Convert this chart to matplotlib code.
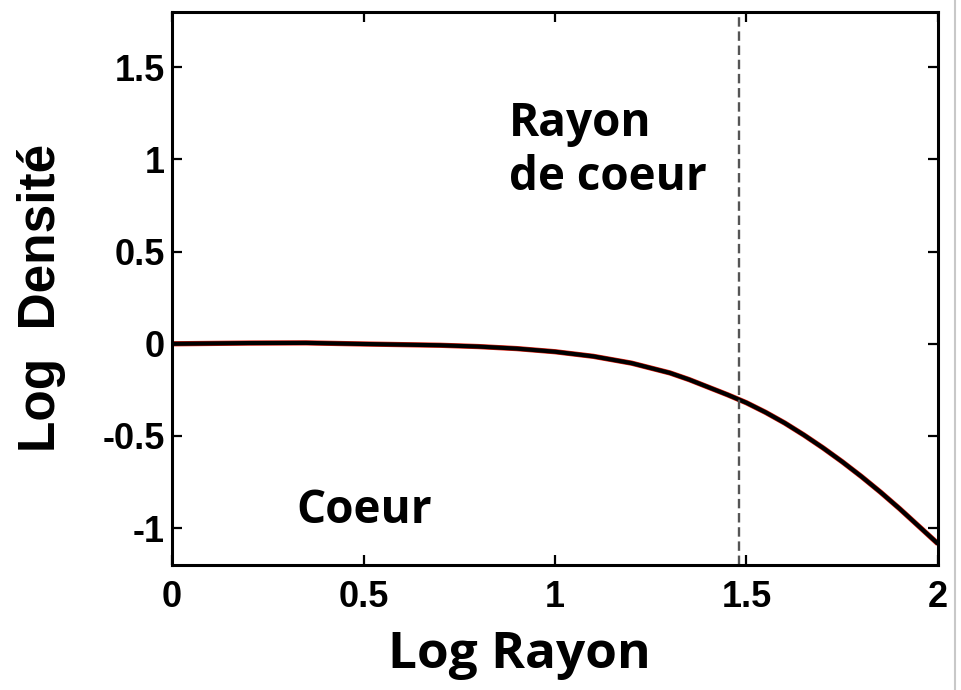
import matplotlib
matplotlib.use('Agg')
import matplotlib.pyplot as plt
from matplotlib.lines import Line2D

# profil de densite (log r, log densite)
log_r = [0.0, 0.2, 0.35, 0.5, 0.7, 0.8, 0.9, 1.0, 1.1, 1.2, 1.3, 1.35, 1.4,
         1.45, 1.5, 1.55, 1.6, 1.65, 1.7, 1.75, 1.8, 1.85, 1.9, 1.95, 2.0]
log_dens = [0.0, 0.004, 0.005, -0.001, -0.008, -0.015, -0.026, -0.043, -0.068,
            -0.105, -0.158, -0.194, -0.235, -0.276, -0.32, -0.372, -0.43,
            -0.495, -0.565, -0.64, -0.72, -0.805, -0.895, -0.99, -1.085]
r_coeur = 1.48

xticks = [0, 0.5, 1, 1.5, 2]
xtick_labels = ['0', '0.5', '1', '1.5', '2']
yticks = [-1, -0.5, 0, 0.5, 1, 1.5]
ytick_labels = ['-1', '-0.5', '0', '0.5', '1', '1.5']

fig = plt.figure(figsize=(9.62, 6.9), dpi=100)
ax = fig.add_axes([172/962, 1 - 565/690, (938-172)/962, (565-12)/690])

ax.plot(log_r, log_dens, color='#e02010', lw=3.8, solid_capstyle='butt')
ax.plot(log_r, log_dens, color='black', lw=3.0, solid_capstyle='butt')
ax.axvline(r_coeur, color='#555555', lw=1.7, ls=(0, (4, 2)))

ax.set_xlim(0, 2)
ax.set_ylim(-1.2, 1.8)
ax.set_xticks(xticks)
ax.set_xticklabels(xtick_labels)
ax.set_yticks(yticks)
ax.set_yticklabels(ytick_labels)
ax.tick_params(direction='in', length=7, width=1.6, top=True, right=True,
               labelsize=26)
ax.tick_params(axis='x', pad=11)
ax.tick_params(axis='y', pad=5)
for lab in ax.get_xticklabels() + ax.get_yticklabels():
    lab.set_family('Liberation Sans')
    lab.set_weight('bold')
for s in ax.spines.values():
    s.set_linewidth(2.2)

ax.text(0.88, 0.837, 'Rayon\nde coeur', fontsize=33, fontweight='bold',
        family='Open Sans', va='baseline', ha='left', linespacing=1.17)
ax.text(0.325, -0.973, 'Coeur', fontsize=33, fontweight='bold',
        family='Open Sans', va='baseline', ha='left')

fig.text(519/962, 1 - 655/690, 'Log Rayon', fontsize=37, fontweight='bold',
         family='Open Sans', ha='center', va='center')
fig.text(42/962, 1 - 298/690, 'Log  Densité', fontsize=37, fontweight='bold',
         family='Liberation Sans', ha='center', va='center', rotation=90)

fig.add_artist(Line2D([955/962, 955/962], [0, 1], color='#c8c8c8', lw=1.5,
                      transform=fig.transFigure))

fig.savefig('out.png', dpi=100, facecolor='white')
